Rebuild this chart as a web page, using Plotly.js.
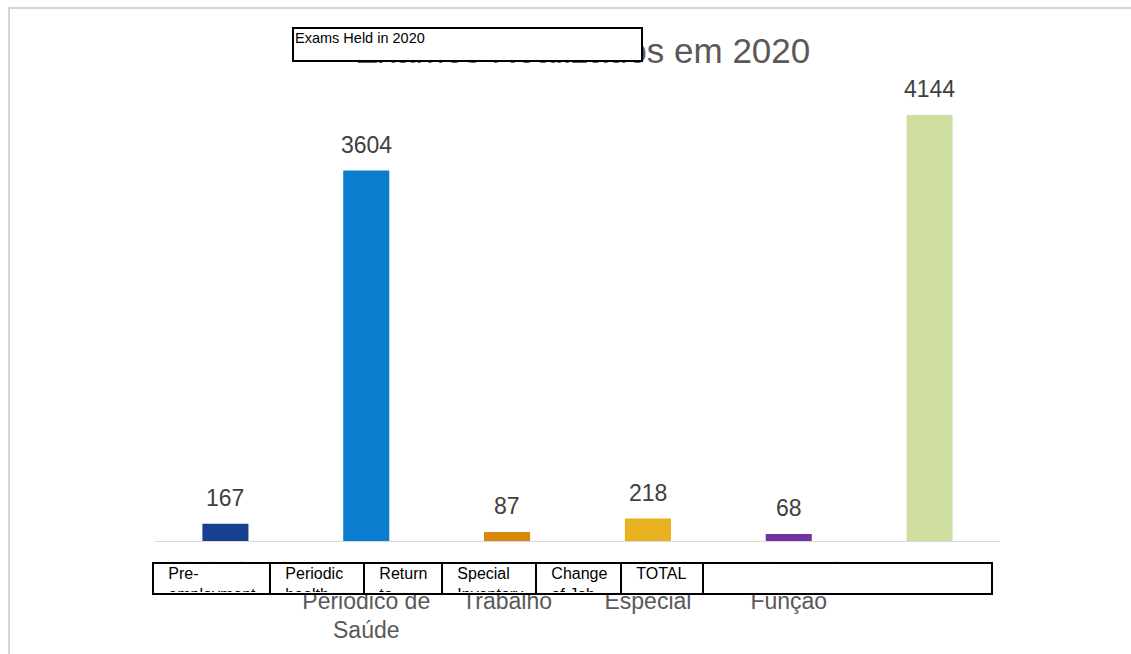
<!DOCTYPE html>
<html>
<head>
<meta charset="utf-8">
<script src="https://cdn.plot.ly/plotly-3.0.1.min.js"></script>
<style>html,body{margin:0;padding:0;background:#fff;}#chart{width:1131px;height:654px;}</style>
</head>
<body>
<div id="chart"></div>
<script>
// ---- data ----
var categoriesPt = [
  "Admissional",
  "Exame<br>Periódico de<br>Saúde",
  "Retorno ao<br>Trabalho",
  "Inventário<br>Especial",
  "Mudança de<br>Função",
  "TOTAL"
];
var values = [167, 3604, 87, 218, 68, 4144];
var barColors = ["#17408E", "#0A7DCF", "#DA870E", "#E7B11F", "#7233A2", "#CFDFA2"];
var titlePt = "Exames Realizados em 2020";
var titleEn = "Exams Held in 2020";
var labelsEn = ["Pre-<br>employment", "Periodic<br>health", "Return<br>to", "Special<br>Inventory", "Change<br>of Job", "TOTAL", ""];
var labelCellEdges = [152, 269, 363, 441, 535, 620, 702, 991];

// ---- geometry helpers (page pixels -> paper) ----
var W = 1131, H = 654, ML = 155, MR = 131, MT = 100, MB = 113;
var PW = W - ML - MR, PH = H - MT - MB;
function px(x) { return (x - ML) / PW; }
function py(y) { return (H - MB - y) / PH; }

// tick labels: first line faded (partly erased in the source)
var tickText = categoriesPt.map(function (c) {
  var parts = c.split("<br>");
  parts[0] = '<span style="color:#ebebeb">' + parts[0] + '</span>';
  return parts.join("<br>");
});

var trace = {
  type: "bar",
  x: categoriesPt,
  y: values,
  marker: { color: barColors, line: { width: 0 } },
  hoverinfo: "skip"
};

var annotations = [];
// value labels
for (var i = 0; i < values.length; i++) {
  annotations.push({
    xref: "x", yref: "y", x: categoriesPt[i], y: values[i],
    text: String(values[i]), showarrow: false, yanchor: "bottom", yshift: 11,
    font: { family: "Liberation Sans, Arial, sans-serif", size: 23, color: "#404040" }
  });
}
// original (Portuguese) title
annotations.push({
  xref: "paper", yref: "paper", x: px(582), y: py(50), xanchor: "center", yanchor: "middle",
  text: titlePt, showarrow: false,
  font: { family: "Liberation Sans, Arial, sans-serif", size: 35, color: "#595959" }
});
// overlay title box (translation)
annotations.push({
  xref: "paper", yref: "paper", x: px(292), y: py(27), xanchor: "left", yanchor: "top",
  text: titleEn, showarrow: false, width: 345, height: 29, align: "left", valign: "top",
  bgcolor: "#ffffff", bordercolor: "#000000", borderwidth: 2, borderpad: 1,
  font: { family: "Liberation Sans, Arial, sans-serif", size: 14.5, color: "#000000" }
});
// overlay label row (translation)
for (var j = 0; j < labelsEn.length; j++) {
  var a = labelCellEdges[j], b = labelCellEdges[j + 1];
  annotations.push({
    xref: "paper", yref: "paper", x: px(a), y: py(562), xanchor: "left", yanchor: "top",
    text: labelsEn[j] ? "&nbsp;&nbsp;&nbsp;" + labelsEn[j].replace("<br>", "<br>&nbsp;&nbsp;&nbsp;") : " ",
    showarrow: false, width: (b - a) - 6 + 2, height: 33 - 6, align: "left", valign: "top",
    bgcolor: "#ffffff", bordercolor: "#000000", borderwidth: 2, borderpad: 1,
    font: { family: "Liberation Sans, Arial, sans-serif", size: 16, color: "#000000" }
  });
}

var layout = {
  width: W, height: H,
  margin: { l: ML, r: MR, t: MT, b: MB, pad: 0 },
  paper_bgcolor: "#ffffff", plot_bgcolor: "#ffffff",
  showlegend: false,
  bargap: 0.673,
  font: { family: "Liberation Sans, Arial, sans-serif", color: "#595959" },
  xaxis: {
    type: "category",
    tickvals: categoriesPt, ticktext: tickText,
    showline: true, linecolor: "#d9d9d9", linewidth: 1,
    ticks: "", showgrid: false, zeroline: false,
    tickfont: { family: "Liberation Sans, Arial, sans-serif", size: 23, color: "#595959" },
    ticklabelstandoff: 9, fixedrange: true
  },
  yaxis: { range: [0, 4290], visible: false, showgrid: false, zeroline: false, fixedrange: true },
  shapes: [
    { type: "line", xref: "paper", yref: "paper", x0: px(8), x1: px(1131), y0: py(8), y1: py(8),
      line: { color: "#d4d4d4", width: 2 } },
    { type: "line", xref: "paper", yref: "paper", x0: px(9), x1: px(9), y0: py(8), y1: py(654),
      line: { color: "#d4d4d4", width: 2 } }
  ],
  annotations: annotations,
  hovermode: false
};

Plotly.newPlot("chart", [trace], layout, { staticPlot: true, displayModeBar: false });
</script>
</body>
</html>
